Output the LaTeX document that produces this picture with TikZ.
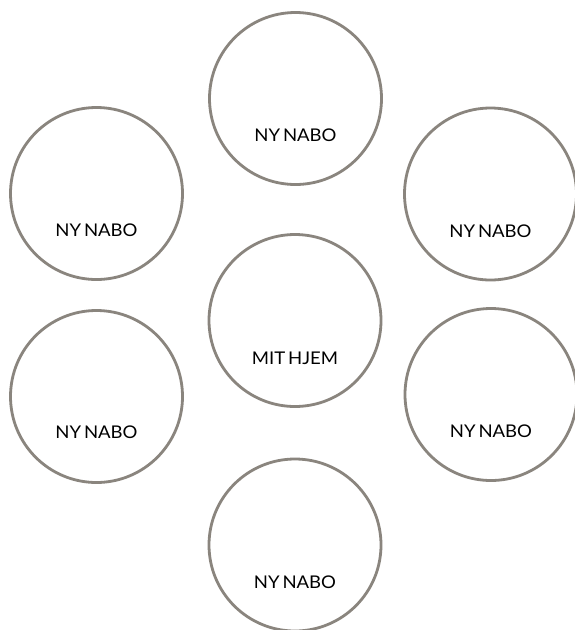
\documentclass[tikz,border=0pt]{standalone}
\usepackage{fontspec}
\setmainfont{Lato}[FakeStretch=1.06,WordSpace=0.6]
\definecolor{ringgrey}{HTML}{8A857E}
\begin{document}
\begin{tikzpicture}[x=1pt,y=-1pt,
  ring/.style={circle,draw=ringgrey,line width=2.8pt,minimum size=172pt,inner sep=0pt},
  lbl/.style={font=\fontsize{17.5}{20}\selectfont,text=black,anchor=center}]
\useasboundingbox[fill=white] (0,0) rectangle (574,630);
\node[ring] (top) at (295.5,98.5) {};
\node[ring] (lt) at (96.5,193.5) {};
\node[ring] (rt) at (490.5,194) {};
\node[ring] (ctr) at (295,320.5) {};
\node[ring] (lb) at (96.5,396.5) {};
\node[ring] (rb) at (491,394.5) {};
\node[ring] (bot) at (295,545) {};
\node[lbl] (ttop) at ([yshift=-37pt]top.center) {NY NABO};
\node[lbl] (tlt) at ([yshift=-37pt]lt.center) {NY NABO};
\node[lbl] (trt) at ([yshift=-37pt]rt.center) {NY NABO};
\node[lbl] (tctr) at ([yshift=-38pt]ctr.center) {MIT HJEM};
\node[lbl] (tlb) at ([yshift=-36pt]lb.center) {NY NABO};
\node[lbl] (trb) at ([yshift=-37pt]rb.center) {NY NABO};
\node[lbl] (tbot) at ([yshift=-37pt]bot.center) {NY NABO};
\end{tikzpicture}
\end{document}
